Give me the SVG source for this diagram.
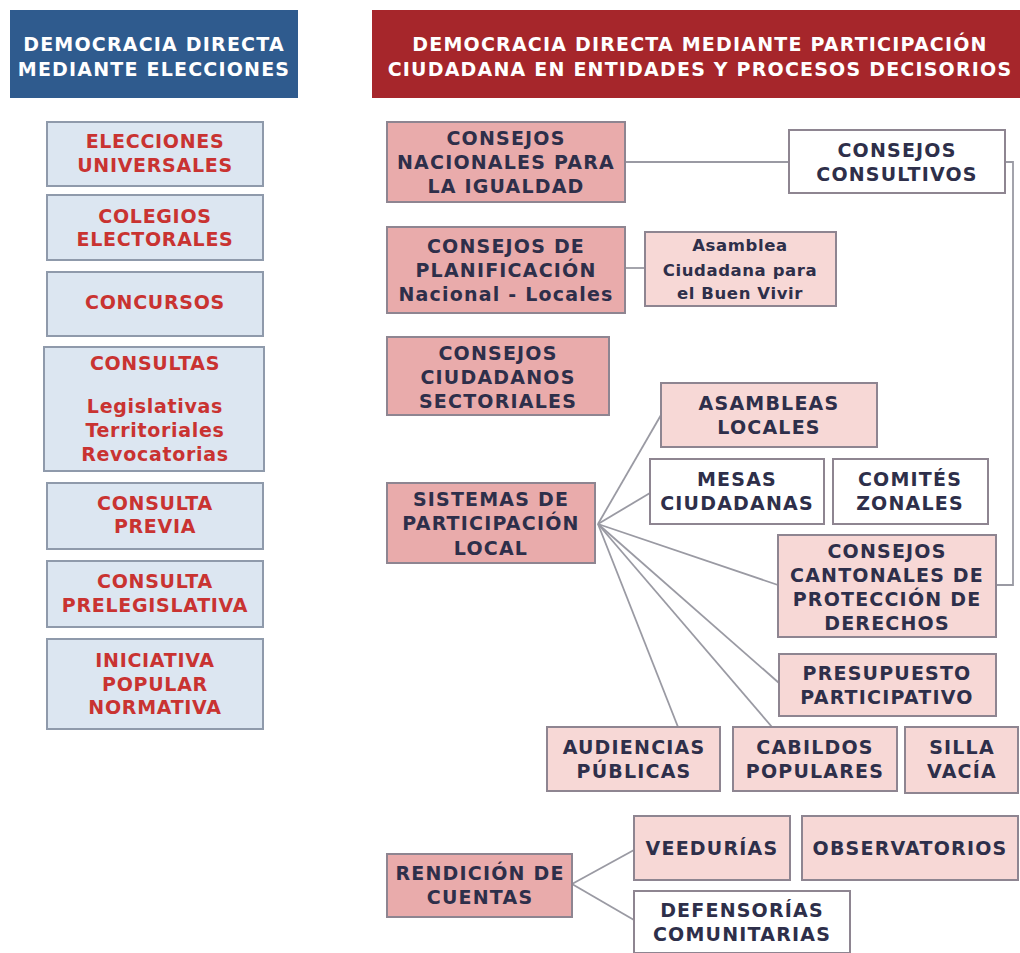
<svg xmlns="http://www.w3.org/2000/svg" width="1020" height="953" viewBox="0 0 1020 953">
<style>
.bg{fill:#ffffff}
.hb{fill:#2f5b8e}
.hr{fill:#a6262b}
.bl{fill:#dce6f1;stroke:#8f9aab;stroke-width:2}
.pk{fill:#e9abab;stroke:#8e8591;stroke-width:2}
.lp{fill:#f7d8d6;stroke:#8e8591;stroke-width:2}
.wh{fill:#ffffff;stroke:#8e8591;stroke-width:2}
.t{font-family:"DejaVu Sans",Verdana,sans-serif;font-weight:bold;font-size:19px;text-anchor:middle}
.h{fill:#ffffff;font-size:19px;letter-spacing:1.2px}
.r{fill:#c93331;letter-spacing:0.7px}
.d{fill:#2e2f4a;letter-spacing:1.2px}
.s{font-size:16.5px;letter-spacing:0.6px}
.cn{stroke:#9a9aa3;stroke-width:1.8;fill:none}
</style>
<rect class="bg" x="0" y="0" width="1020" height="953"/>

<g id="connectors">
<path class="cn" d="M625,162 H789"/>
<path class="cn" d="M1005,162 H1013 V585 H996"/>
<path class="cn" d="M625,268 H645"/>
<path class="cn" d="M598,524 L661,415"/>
<path class="cn" d="M598,524 L650,493"/>
<path class="cn" d="M598,524 L778,585"/>
<path class="cn" d="M598,524 L779,683"/>
<path class="cn" d="M598,524 L772,727"/>
<path class="cn" d="M598,524 L678,727"/>
<path class="cn" d="M572,884 L634,850"/>
<path class="cn" d="M572,884 L634,920"/>
</g>

<g id="header-left">
<rect class="hb" x="10" y="10" width="288" height="88"/>
<text class="t h" x="154" y="51">DEMOCRACIA DIRECTA</text>
<text class="t h" x="154" y="76">MEDIANTE ELECCIONES</text>
</g>
<g id="header-right">
<rect class="hr" x="372" y="10" width="648" height="88"/>
<text class="t h" x="700" y="51">DEMOCRACIA DIRECTA MEDIANTE PARTICIPACIÓN</text>
<text class="t h" x="700" y="76">CIUDADANA EN ENTIDADES Y PROCESOS DECISORIOS</text>
</g>

<g id="elecciones-universales">
<rect class="bl" x="47" y="122" width="216" height="64"/>
<text class="t r" x="155" y="148">ELECCIONES</text>
<text class="t r" x="155" y="172">UNIVERSALES</text>
</g>
<g id="colegios-electorales">
<rect class="bl" x="47" y="195" width="216" height="65"/>
<text class="t r" x="155" y="223">COLEGIOS</text>
<text class="t r" x="155" y="246">ELECTORALES</text>
</g>
<g id="concursos">
<rect class="bl" x="47" y="272" width="216" height="64"/>
<text class="t r" x="155" y="309">CONCURSOS</text>
</g>
<g id="consultas">
<rect class="bl" x="44" y="347" width="220" height="124"/>
<text class="t r" x="155" y="370">CONSULTAS</text>
<text class="t r" x="155" y="413">Legislativas</text>
<text class="t r" x="155" y="437">Territoriales</text>
<text class="t r" x="155" y="461">Revocatorias</text>
</g>
<g id="consulta-previa">
<rect class="bl" x="47" y="483" width="216" height="66"/>
<text class="t r" x="155" y="510">CONSULTA</text>
<text class="t r" x="155" y="533">PREVIA</text>
</g>
<g id="consulta-prelegislativa">
<rect class="bl" x="47" y="561" width="216" height="66"/>
<text class="t r" x="155" y="588">CONSULTA</text>
<text class="t r" x="155" y="612">PRELEGISLATIVA</text>
</g>
<g id="iniciativa-popular">
<rect class="bl" x="47" y="639" width="216" height="90"/>
<text class="t r" x="155" y="667">INICIATIVA</text>
<text class="t r" x="155" y="691">POPULAR</text>
<text class="t r" x="155" y="714">NORMATIVA</text>
</g>

<g id="consejos-nacionales">
<rect class="pk" x="387" y="122" width="238" height="80"/>
<text class="t d" x="506" y="145">CONSEJOS</text>
<text class="t d" x="506" y="169">NACIONALES PARA</text>
<text class="t d" x="506" y="193">LA IGUALDAD</text>
</g>
<g id="consejos-consultivos">
<rect class="wh" x="789" y="130" width="216" height="63"/>
<text class="t d" x="897" y="157">CONSEJOS</text>
<text class="t d" x="897" y="181">CONSULTIVOS</text>
</g>
<g id="consejos-planificacion">
<rect class="pk" x="387" y="227" width="238" height="86"/>
<text class="t d" x="506" y="253">CONSEJOS DE</text>
<text class="t d" x="506" y="277">PLANIFICACIÓN</text>
<text class="t d" x="506" y="301">Nacional - Locales</text>
</g>
<g id="asamblea-ciudadana">
<rect class="lp" x="645" y="232" width="191" height="74"/>
<text class="t d s" x="740" y="251">Asamblea</text>
<text class="t d s" x="740" y="276">Ciudadana para</text>
<text class="t d s" x="740" y="299">el Buen Vivir</text>
</g>
<g id="consejos-ciudadanos">
<rect class="pk" x="387" y="337" width="222" height="78"/>
<text class="t d" x="498" y="360">CONSEJOS</text>
<text class="t d" x="498" y="384">CIUDADANOS</text>
<text class="t d" x="498" y="408">SECTORIALES</text>
</g>
<g id="asambleas-locales">
<rect class="lp" x="661" y="383" width="216" height="64"/>
<text class="t d" x="769" y="410">ASAMBLEAS</text>
<text class="t d" x="769" y="434">LOCALES</text>
</g>
<g id="mesas-ciudadanas">
<rect class="wh" x="650" y="459" width="174" height="65"/>
<text class="t d" x="737" y="486">MESAS</text>
<text class="t d" x="737" y="510">CIUDADANAS</text>
</g>
<g id="comites-zonales">
<rect class="wh" x="833" y="459" width="155" height="65"/>
<text class="t d" x="910" y="486">COMITÉS</text>
<text class="t d" x="910" y="510">ZONALES</text>
</g>
<g id="sistemas-participacion">
<rect class="pk" x="387" y="483" width="208" height="80"/>
<text class="t d" x="491" y="506">SISTEMAS DE</text>
<text class="t d" x="491" y="530">PARTICIPACIÓN</text>
<text class="t d" x="491" y="555">LOCAL</text>
</g>
<g id="consejos-cantonales">
<rect class="lp" x="778" y="535" width="218" height="102"/>
<text class="t d" x="887" y="558">CONSEJOS</text>
<text class="t d" x="887" y="582">CANTONALES DE</text>
<text class="t d" x="887" y="606">PROTECCIÓN DE</text>
<text class="t d" x="887" y="630">DERECHOS</text>
</g>
<g id="presupuesto-participativo">
<rect class="lp" x="779" y="654" width="217" height="62"/>
<text class="t d" x="887" y="680">PRESUPUESTO</text>
<text class="t d" x="887" y="704">PARTICIPATIVO</text>
</g>
<g id="audiencias-publicas">
<rect class="lp" x="547" y="727" width="173" height="64"/>
<text class="t d" x="634" y="754">AUDIENCIAS</text>
<text class="t d" x="634" y="778">PÚBLICAS</text>
</g>
<g id="cabildos-populares">
<rect class="lp" x="733" y="727" width="164" height="64"/>
<text class="t d" x="815" y="754">CABILDOS</text>
<text class="t d" x="815" y="778">POPULARES</text>
</g>
<g id="silla-vacia">
<rect class="lp" x="905" y="727" width="113" height="66"/>
<text class="t d" x="962" y="754">SILLA</text>
<text class="t d" x="962" y="778">VACÍA</text>
</g>
<g id="rendicion-cuentas">
<rect class="pk" x="387" y="854" width="185" height="63"/>
<text class="t d" x="480" y="880">RENDICIÓN DE</text>
<text class="t d" x="480" y="904">CUENTAS</text>
</g>
<g id="veedurias">
<rect class="lp" x="634" y="816" width="156" height="64"/>
<text class="t d" x="712" y="855">VEEDURÍAS</text>
</g>
<g id="observatorios">
<rect class="lp" x="802" y="816" width="216" height="64"/>
<text class="t d" x="910" y="855">OBSERVATORIOS</text>
</g>
<g id="defensorias-comunitarias">
<rect class="wh" x="634" y="891" width="216" height="62"/>
<text class="t d" x="742" y="917">DEFENSORÍAS</text>
<text class="t d" x="742" y="941">COMUNITARIAS</text>
</g>
</svg>
